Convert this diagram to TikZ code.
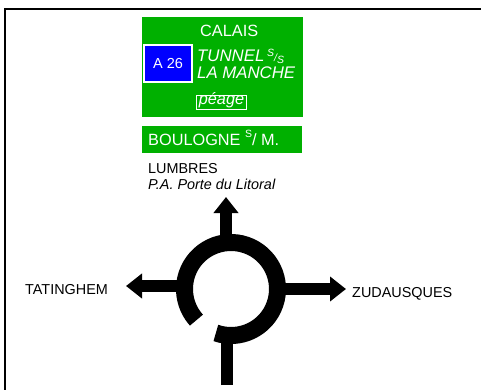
\documentclass[tikz,border=0pt]{standalone}
\usepackage{fontspec}
\setmainfont{Liberation Sans}
\usetikzlibrary{arrows.meta}
\definecolor{signgreen}{RGB}{0,176,0}
\definecolor{signblue}{RGB}{0,0,255}
\begin{document}
\begin{tikzpicture}[x=1pt,y=-1pt,
  signtxt/.style={text=white,inner sep=0pt,anchor=base west,font=\fontsize{16.3}{19}\selectfont},
  blacktxt/.style={text=black,inner sep=0pt,anchor=base west,font=\fontsize{14.4}{17}\selectfont},
  road/.style={line width=12pt,draw=black},
  roadarrow/.style={road,-{Triangle[width=24pt,length=16pt]}}]
\useasboundingbox (0,0) rectangle (481,390);
% frame
\draw[line width=1.8pt] (5,390) -- (5,9) -- (481,9);
% green sign 1
\fill[signgreen] (142,17) rectangle (303,117);
\draw[fill=signblue,draw=white,line width=1.6pt] (144,45) rectangle (192,82);
\node[text=white,inner sep=0pt,font=\fontsize{14.5}{17}\selectfont] (a26) at (168,63.5) {A 26};
\node[signtxt] (calais) at (200,37) {CALAIS};
\node[signtxt,font=\fontsize{16.8}{19}\selectfont\itshape] (tunnel) at (197,61.5) {TUNNEL\,{\fontsize{10.5}{11}\selectfont\raisebox{5pt}{S}/\raisebox{-2pt}{S}}};
\node[signtxt,font=\fontsize{16.8}{19}\selectfont\itshape] (manche) at (197,79) {LA MANCHE};
\node[draw=white,line width=0.8pt,text=white,anchor=base,inner sep=0.5pt,inner xsep=2pt,text height=9pt,text depth=3.5pt,font=\fontsize{16.3}{19}\selectfont\itshape] (peage) at (221.5,105) {péage};
% green sign 2
\fill[signgreen] (142,126) rectangle (302,153);
\node[signtxt] (boulogne) at (148,146) {BOULOGNE {\fontsize{10.5}{11}\selectfont\raisebox{8pt}{S}}/ M.};
% black labels
\node[blacktxt] (lumbres) at (148,173) {LUMBRES};
\node[blacktxt] (porte) at (148,189) {\itshape P.A. Porte du Litoral};
\node[blacktxt] (tating) at (25,294) {TATINGHEM};
\node[blacktxt] (zud) at (352,297) {ZUDAUSQUES};
% roundabout
\coordinate (c) at (231,289);
\draw[line width=17pt] (c) ++(-251:46.5) arc[start angle=-251,end angle=-582,radius=46.5];
\draw[roadarrow] (226,245) -- (226,197);
\draw[roadarrow] (185,286) -- (126,286);
\draw[roadarrow] (278,289) -- (346,289);
\draw[road] (227,385) -- (227,332);
\end{tikzpicture}
\end{document}
